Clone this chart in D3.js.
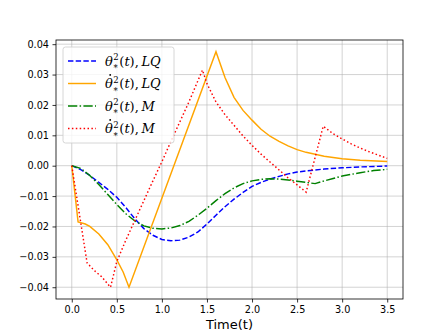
<!DOCTYPE html>
<html>
<head>
<meta charset="utf-8">
<script src="https://cdn.jsdelivr.net/npm/d3@7"></script>
<style>
  body { margin: 0; background: #fff; }
  svg { display: block; }
</style>
</head>
<body>
<svg id="chart" width="448" height="336"></svg>
<script>
// --- data ---
const thetaLQ = [[0,0],[0.1,-0.0013],[0.2,-0.0032],[0.3,-0.0055],[0.4,-0.0078],[0.5,-0.0104],[0.6,-0.0138],
  [0.7,-0.0175],[0.8,-0.0207],[0.9,-0.0229],[1.0,-0.0243],[1.1,-0.0247],[1.2,-0.0245],[1.3,-0.0235],[1.4,-0.0218],
  [1.5,-0.0192],[1.6,-0.0163],[1.7,-0.0135],[1.8,-0.0110],[1.9,-0.0088],[2.0,-0.0068],[2.1,-0.0055],[2.2,-0.0044],
  [2.3,-0.0035],[2.4,-0.0027],[2.5,-0.0021],[2.6,-0.0017],[2.8,-0.0011],[3.0,-0.0007],[3.2,-0.0004],[3.5,-0.0001]];

const thetaDotLQ = [[0,0],[0.07,-0.0185],[0.15,-0.0192],[0.2,-0.0200],[0.3,-0.0225],[0.4,-0.0260],[0.5,-0.0310],
  [0.57,-0.0350],[0.635,-0.0400],[1.6,0.0375],[1.7,0.0290],[1.8,0.0225],[1.9,0.0182],[2.0,0.0150],[2.1,0.0120],
  [2.2,0.0097],[2.3,0.0080],[2.4,0.0065],[2.5,0.0053],[2.6,0.0044],[2.8,0.0031],[3.0,0.0023],[3.2,0.0018],[3.5,0.0014]];

const thetaM = [[0,0],[0.1,-0.0009],[0.2,-0.0032],[0.3,-0.0062],[0.4,-0.0095],[0.5,-0.0128],[0.6,-0.0158],
  [0.7,-0.0182],[0.8,-0.0198],[0.9,-0.0206],[1.0,-0.0208],[1.1,-0.0205],[1.2,-0.0197],[1.3,-0.0183],[1.4,-0.0163],
  [1.5,-0.0140],[1.6,-0.0115],[1.7,-0.0092],[1.8,-0.0073],[1.9,-0.0059],[2.0,-0.0050],[2.1,-0.0045],[2.2,-0.0043],
  [2.3,-0.0044],[2.4,-0.0047],[2.5,-0.0051],[2.6,-0.0055],[2.7,-0.0059],[2.8,-0.0050],[2.9,-0.0042],[3.0,-0.0034],
  [3.2,-0.0023],[3.35,-0.0016],[3.5,-0.0012]];

const thetaDotM = [[0,0],[0.17,-0.0320],[0.25,-0.0345],[0.33,-0.0365],[0.43,-0.0400],[0.5,-0.0315],[0.6,-0.0245],
  [0.7,-0.0180],[0.8,-0.0115],[0.9,-0.0050],[1.0,0.0013],[1.1,0.0080],[1.2,0.0145],[1.3,0.0210],[1.4,0.0280],
  [1.45,0.0315],[1.5,0.0270],[1.6,0.0210],[1.7,0.0168],[1.8,0.0133],[1.9,0.0098],[2.0,0.0067],[2.1,0.0038],
  [2.2,0.0012],[2.3,-0.0014],[2.4,-0.0040],[2.5,-0.0063],[2.6,-0.0087],[2.79,0.0130],[2.9,0.0105],[3.0,0.0088],
  [3.1,0.0072],[3.2,0.0058],[3.3,0.0046],[3.4,0.0035],[3.5,0.0024]];

const xTicks = [0, 0.5, 1.0, 1.5, 2.0, 2.5, 3.0, 3.5];
const yTicks = [-0.04, -0.03, -0.02, -0.01, 0, 0.01, 0.02, 0.03, 0.04];
const xLabel = "Time(t)";

// one entry per curve, legend label is theta^2_*(t) with optional dot, then the tag
const series = [
  { data: thetaLQ,    color: "#0000ff", dash: "5.4,2.3",          dot: false, tag: "LQ" },
  { data: thetaDotLQ, color: "#ffa500", dash: null,               dot: true,  tag: "LQ" },
  { data: thetaM,     color: "#008000", dash: "9.3,2.3,1.5,2.3",  dot: false, tag: "M" },
  { data: thetaDotM,  color: "#ff0000", dash: "1.5,2.4",          dot: true,  tag: "M" }
];

const svg = d3.select("#chart");
const margin = { left: 56, right: 45, top: 40, bottom: 37 };
const W = 448, H = 336;
const sans = "'DejaVu Sans', sans-serif";
const serif = "'DejaVu Serif', 'Liberation Serif', serif";

// matplotlib-style 5% padding around the data
const allPts = series.flatMap(s => s.data);
const [ymin, ymax] = d3.extent(allPts, d => d[1]);
const ypad = (ymax - ymin) * 0.05;
const xpad = 3.5 * 0.05;

const x = d3.scaleLinear().domain([-xpad, 3.5 + xpad]).range([margin.left, W - margin.right]);
const y = d3.scaleLinear().domain([ymin - ypad, ymax + ypad]).range([H - margin.bottom, margin.top]);

// grid
const grid = svg.append("g").attr("stroke", "#b0b0b0").attr("stroke-opacity", 0.7).attr("stroke-width", 0.8);
grid.selectAll(".gx").data(xTicks).join("line")
  .attr("x1", d => x(d)).attr("x2", d => x(d))
  .attr("y1", margin.top).attr("y2", H - margin.bottom);
grid.selectAll(".gy").data(yTicks).join("line")
  .attr("x1", margin.left).attr("x2", W - margin.right)
  .attr("y1", d => y(d)).attr("y2", d => y(d));

// lines
const line = d3.line().x(d => x(d[0])).y(d => y(d[1]));
svg.append("g").selectAll("path").data(series).join("path")
  .attr("d", d => line(d.data))
  .attr("fill", "none")
  .attr("stroke", d => d.color)
  .attr("stroke-width", 1.46)
  .attr("stroke-dasharray", d => d.dash);

// axes
const fmtY = v => d3.format(".2f")(v).replace("-", "\u2212");
const xAxis = svg.append("g").attr("transform", `translate(0,${H - margin.bottom})`)
  .call(d3.axisBottom(x).tickValues(xTicks).tickFormat(d3.format(".1f")).tickSize(3.5).tickPadding(3.5));
const yAxis = svg.append("g").attr("transform", `translate(${margin.left},0)`)
  .call(d3.axisLeft(y).tickValues(yTicks).tickFormat(fmtY).tickSize(3.5).tickPadding(3.5));
[xAxis, yAxis].forEach(a => {
  a.select(".domain").remove();
  a.selectAll("line").attr("stroke", "#000").attr("stroke-width", 0.8);
  a.selectAll("text").attr("font-size", 9.7).attr("fill", "#000").attr("font-family", sans);
});

// frame
svg.append("rect")
  .attr("x", margin.left).attr("y", margin.top)
  .attr("width", W - margin.left - margin.right).attr("height", H - margin.top - margin.bottom)
  .attr("fill", "none").attr("stroke", "#000").attr("stroke-width", 0.8);

svg.append("text")
  .attr("x", (margin.left + W - margin.right) / 2).attr("y", 329)
  .attr("text-anchor", "middle").attr("font-size", 13).attr("fill", "#000").attr("font-family", sans)
  .text(xLabel);

// legend
const lg = svg.append("g").attr("transform", "translate(63,47)");
lg.append("rect").attr("width", 111).attr("height", 96).attr("rx", 2.5)
  .attr("fill", "#fff").attr("fill-opacity", 0.8).attr("stroke", "#cccccc").attr("stroke-width", 0.8);

const items = lg.selectAll(".item").data(series).join("g")
  .attr("transform", (d, i) => `translate(0,${14 + i * 22.5})`);
items.append("line").attr("x1", 5).attr("x2", 33)
  .attr("stroke", d => d.color).attr("stroke-width", 1.46).attr("stroke-dasharray", d => d.dash);

// dot accent over theta
items.filter(d => d.dot).append("circle").attr("cx", 47.2).attr("cy", -8.6).attr("r", 0.95).attr("fill", "#000");

const lbl = items.append("text").attr("x", 42).attr("y", 4.5)
  .attr("font-family", serif).attr("font-size", 13).attr("fill", "#000");
lbl.append("tspan").attr("font-style", "italic").text("\u03b8");
lbl.append("tspan").attr("font-size", 8.5).attr("dx", 0.5).attr("dy", -5.5).text("2");
lbl.append("tspan").attr("font-size", 8.5).attr("dx", -5.2).attr("dy", 11).text("*");
lbl.append("tspan").attr("dx", 1.5).attr("dy", -5.5).text("(");
lbl.append("tspan").attr("font-style", "italic").text("t");
lbl.append("tspan").text("),\u2009");
lbl.append("tspan").attr("font-style", "italic").text(d => d.tag);
</script>
</body>
</html>
